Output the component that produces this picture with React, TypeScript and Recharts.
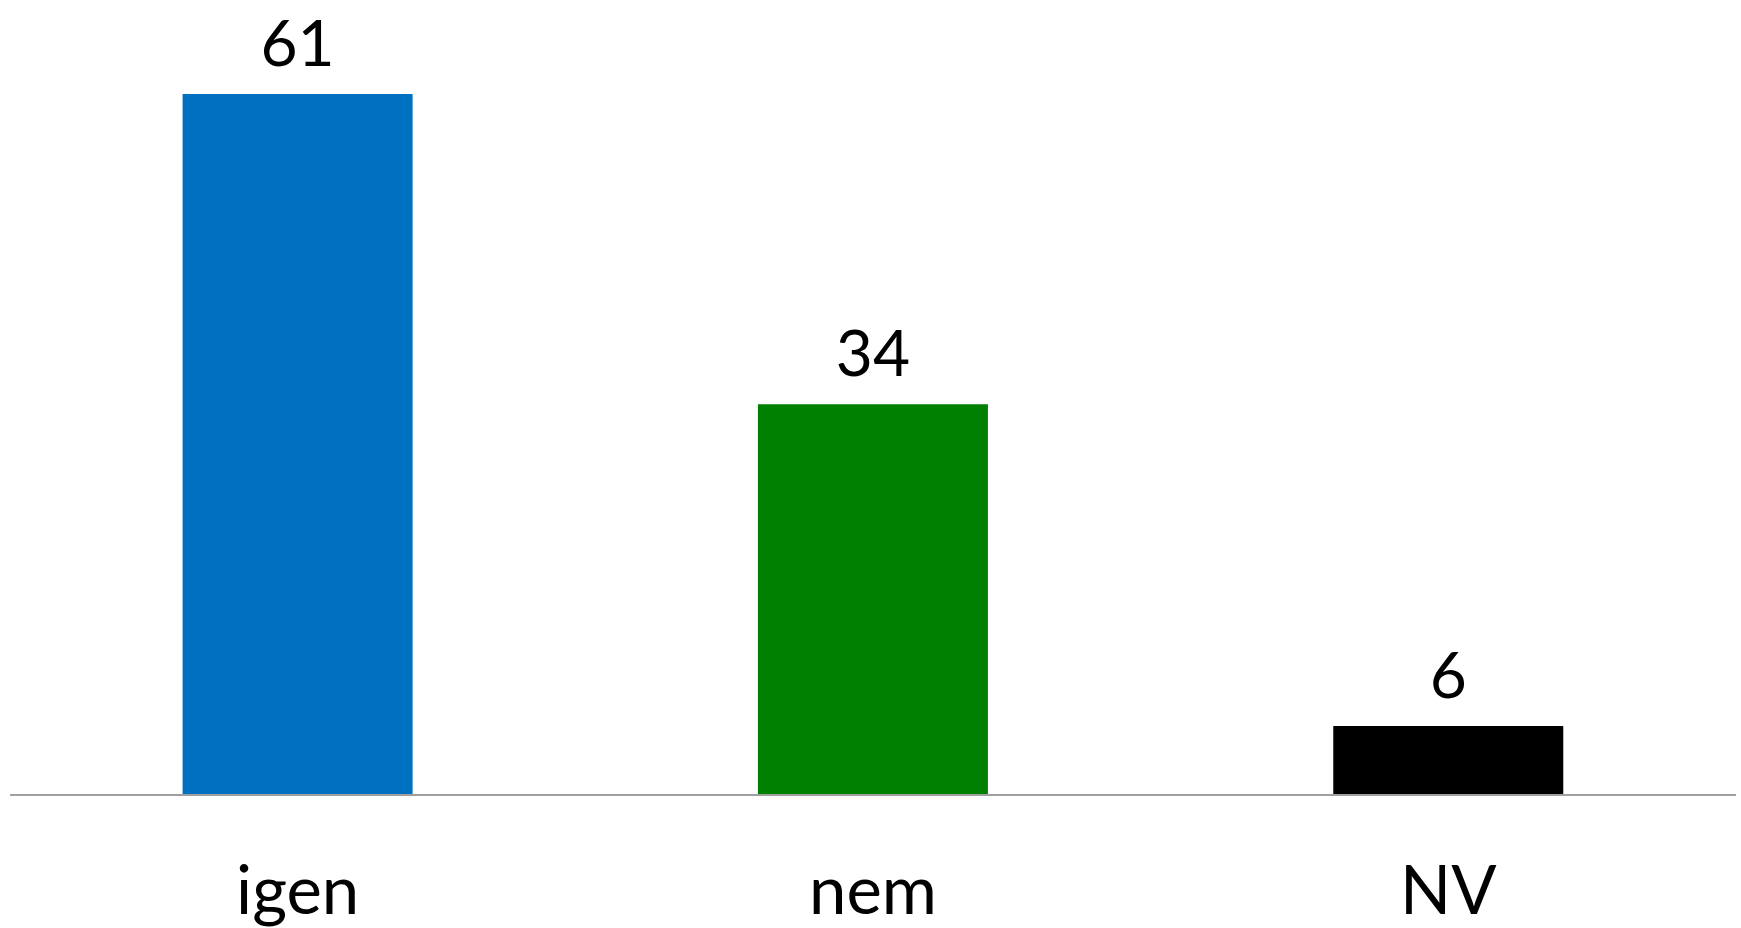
import React from 'react';
import { BarChart, Bar, XAxis, YAxis, Cell, LabelList } from 'recharts';

const categories = ['igen', 'nem', 'NV'];
const values = [61, 34, 6];
const colors = ['#0070C0', '#008000', '#000000'];

const data = categories.map((name, i) => ({ name, value: values[i] }));

const FONT = 'Lato, "Noto Sans", sans-serif';

export default function App() {
  return (
    <div style={{ position: 'absolute', left: 0, top: 0, background: '#fff' }}>
      <BarChart
        width={1741}
        height={928}
        data={data}
        margin={{ top: 48, right: 5, bottom: 0, left: 10 }}
        barCategoryGap="30%"
      >
        <XAxis
          dataKey="name"
          height={133}
          axisLine={{ stroke: '#A0A0A0', strokeWidth: 2 }}
          tickLine={false}
          tickSize={0}
          tickMargin={71}
          tick={{ fill: '#000', fontSize: 67, fontFamily: FONT }}
          interval={0}
        />
        <YAxis hide domain={[0, 65]} allowDataOverflow type="number" />
        <Bar dataKey="value" isAnimationActive={false}>
          {data.map((d, i) => (
            <Cell key={d.name} fill={colors[i]} />
          ))}
          <LabelList
            dataKey="value"
            position="top"
            offset={28}
            style={{ fill: '#000', fontSize: 64, fontFamily: FONT }}
          />
        </Bar>
      </BarChart>
    </div>
  );
}
